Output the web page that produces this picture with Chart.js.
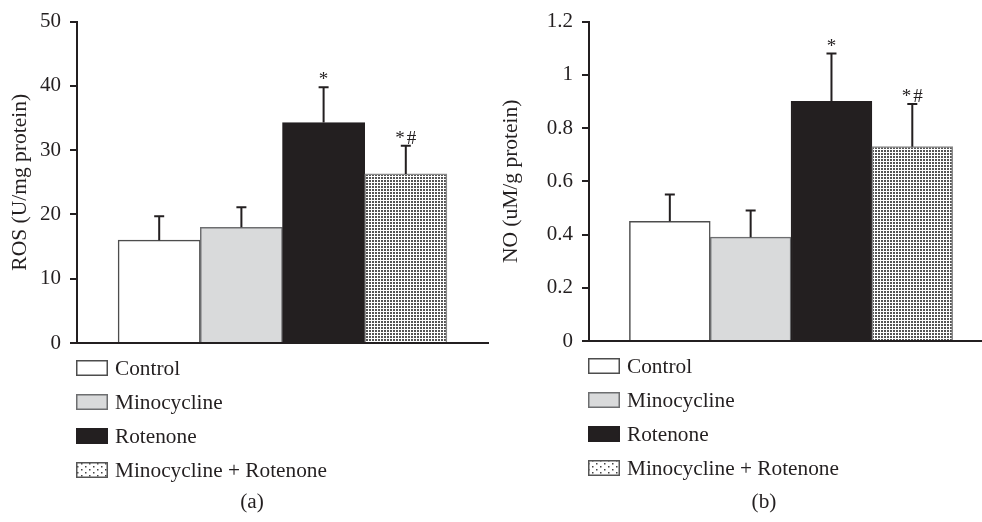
<!DOCTYPE html>
<html><head><meta charset="utf-8">
<script src="https://cdn.jsdelivr.net/npm/chart.js@4"></script>
<style>
html,body{margin:0;padding:0;background:#fff;}
#wrap{position:relative;width:982px;height:522px;overflow:hidden;}
canvas{position:absolute;top:0;}
</style></head><body>
<div id="wrap">
<canvas id="ca" width="491" height="522" style="left:0"></canvas>
<canvas id="cb" width="491" height="522" style="left:491px"></canvas>
</div>
<script>
// ---- data ----
const categories = ['Control', 'Minocycline', 'Rotenone', 'Minocycline + Rotenone'];
const barPositions = [1, 2, 3, 4];
const rosMeans = [16.0, 18.0, 34.3, 26.3];
const rosErrors = [3.7, 3.1, 5.5, 4.4];
const noMeans = [0.45, 0.39, 0.90, 0.73];
const noErrors = [0.10, 0.10, 0.18, 0.16];
const significance = ['', '', '*', '*#'];
const rosTicks = [0, 10, 20, 30, 40, 50];
const rosTickLabels = ['0', '10', '20', '30', '40', '50'];
const noTicks = [0, 0.2, 0.4, 0.6, 0.8, 1, 1.2];
const noTickLabels = ['0', '0.2', '0.4', '0.6', '0.8', '1', '1.2'];
const rosAxisTitle = 'ROS (U/mg protein)';
const noAxisTitle = 'NO (uM/g protein)';
const panelCaptions = ['(a)', '(b)'];

// ---- styles ----
const INK = '#231f20';
const FONT = '"Liberation Serif", "Times New Roman", serif';

function makeDots() {
  const c = document.createElement('canvas');
  c.width = 3; c.height = 3;
  const x = c.getContext('2d');
  x.fillStyle = '#ffffff'; x.fillRect(0, 0, 3, 3);
  x.fillStyle = '#555555'; x.fillRect(0, 0, 2, 2);
  return x.createPattern(c, 'repeat');
}
function makeSparseDots() {
  const c = document.createElement('canvas');
  c.width = 8; c.height = 6;
  const x = c.getContext('2d');
  x.fillStyle = '#ffffff'; x.fillRect(0, 0, 8, 6);
  x.fillStyle = '#444444';
  x.fillRect(1, 1, 1.5, 1.5); x.fillRect(5, 4, 1.5, 1.5);
  return x.createPattern(c, 'repeat');
}
const dots = makeDots();
const fills = ['#ffffff', '#d9dadb', INK, dots];
const legendFills = ['#ffffff', '#d9dadb', INK, makeSparseDots()];
const borders = ['#4d4d4d', '#6d6e70', INK, '#8a8a8a'];
const legendBorders = ['#4d4d4d', '#6d6e70', INK, '#555555'];

const errorBarPlugin = {
  id: 'errorBars',
  afterDatasetsDraw(chart, args, opts) {
    const meta = chart.getDatasetMeta(0);
    const ys = chart.scales.y;
    const ctx = chart.ctx;
    const ds = chart.data.datasets[0];
    ctx.save();
    ctx.strokeStyle = INK; ctx.lineWidth = 2; ctx.lineCap = 'butt';
    meta.data.forEach((bar, i) => {
      const v = ds.data[i].y, e = opts.errors[i];
      const top = ys.getPixelForValue(v + e);
      ctx.beginPath();
      ctx.moveTo(bar.x, bar.y); ctx.lineTo(bar.x, top);
      ctx.moveTo(bar.x - 5, top); ctx.lineTo(bar.x + 5, top);
      ctx.stroke();
      if (opts.labels[i]) {
        ctx.font = '19px ' + FONT;
        ctx.letterSpacing = '2px';
        ctx.fillStyle = INK; ctx.textAlign = 'center'; ctx.textBaseline = 'alphabetic';
        ctx.fillText(opts.labels[i], bar.x + 1, top - 2);
      }
    });
    ctx.restore();
  }
};

const legendPlugin = {
  id: 'stackLegend',
  afterDraw(chart, args, opts) {
    const ctx = chart.ctx, a = chart.chartArea;
    ctx.save();
    ctx.font = '21.3px ' + FONT;
    ctx.textAlign = 'left'; ctx.textBaseline = 'alphabetic';
    categories.forEach((label, i) => {
      const base = a.bottom + 32 + i * 34;
      const bx = a.left - 1, by = base - 15;
      ctx.fillStyle = legendFills[i];
      ctx.fillRect(bx, by, 32, 16);
      ctx.strokeStyle = legendBorders[i]; ctx.lineWidth = 1.5;
      ctx.strokeRect(bx + 0.75, by + 0.75, 30.5, 14.5);
      ctx.fillStyle = INK;
      ctx.fillText(label, bx + 39, base);
    });
    ctx.textAlign = 'center';
    ctx.fillText(opts.caption, a.left + 175, 508);
    ctx.restore();
  }
};

function makeChart(id, means, errors, ticks, tickLabels, title, caption, yMax, xMax, axisWidth, pad) {
  return new Chart(document.getElementById(id), {
    type: 'bar',
    data: {
      datasets: [{
        data: barPositions.map((p, i) => ({ x: p, y: means[i] })),
        backgroundColor: fills,
        borderColor: borders,
        borderWidth: 1.5,
        categoryPercentage: 1,
        barPercentage: 1
      }]
    },
    options: {
      responsive: false,
      animation: false,
      layout: { padding: pad },
      plugins: {
        legend: { display: false },
        tooltip: { enabled: false },
        errorBars: { errors: errors, labels: significance },
        stackLegend: { caption: caption }
      },
      scales: {
        x: {
          type: 'linear', min: 0, max: xMax, offset: false,
          grid: { display: false },
          border: { display: true, color: INK, width: 2 },
          ticks: { display: false },
          afterBuildTicks: s => { s.ticks = [0].concat(barPositions).map(v => ({ value: v })); },
          afterFit: s => { s.height = 0; }
        },
        y: {
          min: 0, max: yMax,
          grid: { display: true, drawOnChartArea: false, drawTicks: true, tickLength: 7, lineWidth: 2, color: INK },
          border: { display: true, color: INK, width: 2 },
          ticks: { color: INK, padding: 9, font: { family: FONT, size: 21 },
                   callback: (v, i) => tickLabels[i] },
          afterBuildTicks: s => { s.ticks = ticks.map(v => ({ value: v })); },
          title: { display: true, text: title, color: INK, font: { family: FONT, size: 21.5 }, padding: { top: 7, bottom: 0 } },
          afterFit: s => { s.width = axisWidth; }
        }
      }
    },
    plugins: [errorBarPlugin, legendPlugin]
  });
}

makeChart('ca', rosMeans, rosErrors, rosTicks, rosTickLabels, rosAxisTitle, panelCaptions[0], 50, 5, 77,
  { left: 0, right: 3, top: 20, bottom: 179 });
makeChart('cb', noMeans, noErrors, noTicks, noTickLabels, noAxisTitle, panelCaptions[1], 1.2, 4.85, 98,
  { left: 0, right: 1, top: 17, bottom: 181 });
</script>
</body></html>
